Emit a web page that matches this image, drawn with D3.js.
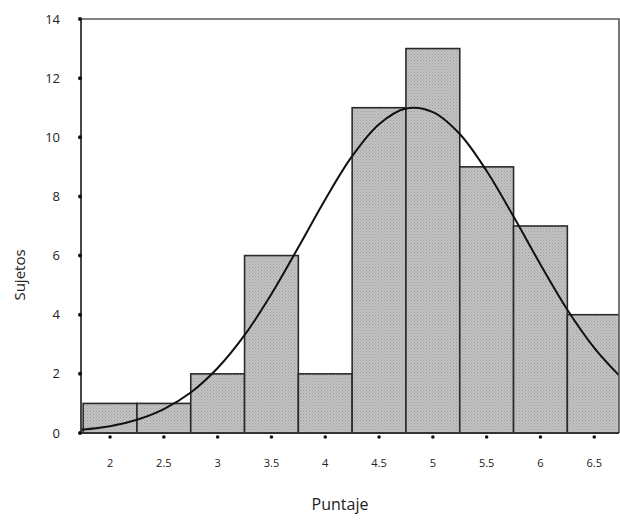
<!DOCTYPE html>
<html>
<head>
<meta charset="utf-8">
<script src="https://cdn.jsdelivr.net/npm/d3@7"></script>
<style>
  body { margin: 0; background: #fff; }
  svg { display: block; font-family: "Open Sans", "DejaVu Sans", sans-serif; }
</style>
</head>
<body>
<svg id="chart" width="620" height="524"></svg>
<script>
// Histogram data (bin centres and counts)
var puntajes = [2, 2.5, 3, 3.5, 4, 4.5, 5, 5.5, 6, 6.5];
var sujetos = [1, 1, 2, 6, 2, 11, 13, 9, 7, 4];
var binWidth = 0.5;

// Fitted curve
var curveX = [1.73, 2, 2.25, 2.5, 2.75, 3, 3.25, 3.5, 3.75, 4, 4.25, 4.5, 4.75, 5, 5.25, 5.5, 5.75, 6, 6.25, 6.5, 6.73];
var curveY = [0.11, 0.23, 0.45, 0.81, 1.37, 2.2, 3.31, 4.7, 6.28, 7.9, 9.36, 10.44, 10.97, 10.85, 10.11, 8.86, 7.32, 5.7, 4.17, 2.88, 1.95];

var yTicks = [0, 2, 4, 6, 8, 10, 12, 14];

var svg = d3.select("#chart");
var plotLeft = 81, plotRight = 619, plotTop = 19, plotBottom = 433;

var x = d3.scaleLinear().domain([1.73, 6.73]).range([plotLeft, plotRight]);
var y = d3.scaleLinear().domain([0, 14]).range([plotBottom, plotTop]);

var defs = svg.append("defs");
defs.append("clipPath").attr("id", "plotClip")
  .append("rect").attr("x", plotLeft).attr("y", plotTop - 2)
  .attr("width", plotRight - plotLeft).attr("height", plotBottom - plotTop + 4);

// halftone-ish fill
var pat = defs.append("pattern").attr("id", "dots")
  .attr("width", 3).attr("height", 3).attr("patternUnits", "userSpaceOnUse");
pat.append("rect").attr("width", 3).attr("height", 3).attr("fill", "#c3c3c3");
pat.append("rect").attr("width", 1).attr("height", 1).attr("fill", "#9c9c9c");
pat.append("rect").attr("x", 1.5).attr("y", 1.5).attr("width", 1).attr("height", 1).attr("fill", "#a6a6a6");

var plot = svg.append("g").attr("clip-path", "url(#plotClip)");

// frame (top and right)
svg.append("path")
  .attr("d", "M" + plotLeft + "," + plotTop + "H" + plotRight + "V" + plotBottom)
  .attr("fill", "none").attr("stroke", "#555").attr("stroke-width", 1.6);

// bars
var data = puntajes.map(function (p, i) { return { p: p, n: sujetos[i] }; });
plot.selectAll(".bar").data(data).enter().append("rect")
  .attr("class", "bar")
  .attr("x", function (d) { return x(Math.max(d.p - binWidth / 2, 1.73)); })
  .attr("width", function (d) { return x(d.p + binWidth / 2) - x(Math.max(d.p - binWidth / 2, 1.73)); })
  .attr("y", function (d) { return y(d.n); })
  .attr("height", function (d) { return y(0) - y(d.n); })
  .attr("fill", "url(#dots)")
  .attr("stroke", "#2a2a2a").attr("stroke-width", 1.6);

// normal curve
var line = d3.line()
  .x(function (d) { return x(d[0]); })
  .y(function (d) { return y(d[1]); })
  .curve(d3.curveCatmullRom);
plot.append("path")
  .datum(curveX.map(function (v, i) { return [v, curveY[i]]; }))
  .attr("d", line)
  .attr("fill", "none").attr("stroke", "#111").attr("stroke-width", 2);

// axes
svg.append("line").attr("x1", plotLeft).attr("x2", plotLeft).attr("y1", plotTop).attr("y2", plotBottom)
  .attr("stroke", "#333").attr("stroke-width", 1.8);
svg.append("line").attr("x1", plotLeft).attr("x2", plotRight).attr("y1", plotBottom).attr("y2", plotBottom)
  .attr("stroke", "#333").attr("stroke-width", 1.8);

// y ticks (dots) and labels
svg.selectAll(".ytick").data(yTicks).enter().append("circle")
  .attr("class", "ytick").attr("cx", plotLeft - 1).attr("cy", function (d) { return y(d); })
  .attr("r", 2).attr("fill", "#111");
svg.selectAll(".ylab").data(yTicks).enter().append("text")
  .attr("class", "ylab").attr("x", 60).attr("y", function (d) { return y(d); })
  .attr("dy", "0.35em").attr("text-anchor", "end")
  .attr("font-size", 13).attr("fill", "#222")
  .text(function (d) { return d; });

// x ticks (dots) and labels
svg.selectAll(".xtick").data(puntajes).enter().append("circle")
  .attr("class", "xtick").attr("cx", function (d) { return x(d); }).attr("cy", plotBottom + 4)
  .attr("r", 1.8).attr("fill", "#111");
svg.selectAll(".xlab").data(puntajes).enter().append("text")
  .attr("class", "xlab").attr("x", function (d) { return x(d); }).attr("y", 463)
  .attr("dy", "0.35em").attr("text-anchor", "middle")
  .attr("font-size", 11).attr("fill", "#222")
  .text(function (d) { return d; });

// axis titles
svg.append("text").attr("x", 340).attr("y", 510).attr("text-anchor", "middle")
  .attr("font-size", 16).attr("fill", "#222").text("Puntaje");
svg.append("text").attr("transform", "translate(25,275) rotate(-90)")
  .attr("text-anchor", "middle").attr("font-size", 15).attr("fill", "#222").text("Sujetos");
</script>
</body>
</html>
